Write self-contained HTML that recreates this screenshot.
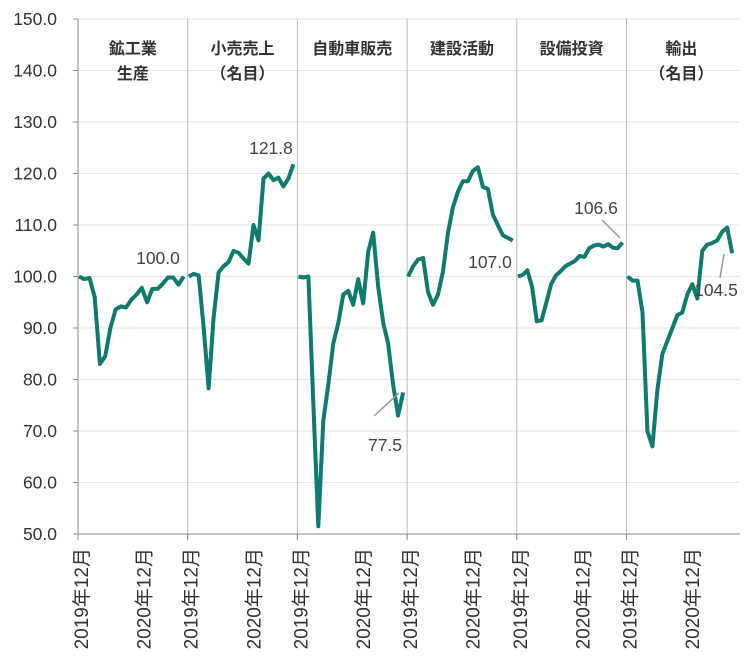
<!DOCTYPE html><html><head><meta charset="utf-8"><style>body{margin:0;background:#fff}svg text{font-family:"Liberation Sans","Noto Sans CJK JP",sans-serif}</style></head><body>
<svg id="s" width="748" height="667" xmlns="http://www.w3.org/2000/svg"></svg>
<script>
const s=document.getElementById('s');let h='';
const X0=78,PW=109.7,DX=5.22,Y=v=>534-(v-50)*5.15;
for(let v=50;v<=150;v+=10){const y=Y(v);if(v>50)h+=`<line x1="${X0}" x2="740" y1="${y}" y2="${y}" stroke="#e6e6e6"/>`;h+=`<line x1="73" x2="${X0}" y1="${y}" y2="${y}" stroke="#888"/><text x="57" y="${y+6}" text-anchor="end" font-size="17.5" fill="#333">${v.toFixed(1)}</text>`;}
for(let i=1;i<6;i++){const x=X0+PW*i;h+=`<line x1="${x}" x2="${x}" y1="19" y2="539" stroke="#bbb"/>`;}
h+=`<line x1="${X0}" x2="${X0}" y1="19" y2="539" stroke="#888"/><line x1="73" x2="740" y1="534" y2="534" stroke="#888"/>`;
const titles=[["鉱工業","生産"],["小売売上","（名目）"],["自動車販売"],["建設活動"],["設備投資"],["輸出","（名目）"]];
const data=[
[100,99.5,99.7,96,83,84.5,90,93.6,94.2,94,95.5,96.5,97.8,95,97.6,97.6,98.6,99.8,99.8,98.4,100],
[100,100.5,100.2,90,78.3,92,100.8,102,102.8,105,104.6,103.5,102.5,110,107,119,120,118.7,119.2,117.5,119,121.8],
[100,99.8,100,75,51.5,72,79,87,91,96.5,97.2,94.5,99.5,94.8,104.8,108.5,98,91,87,79,73,77.5],
[100,102,103.3,103.6,97,94.5,96.5,101,108.5,113.5,116.5,118.5,118.5,120.5,121.2,117.4,117,112,110,108,107.5,107],
[100,100.3,101.2,98,91.3,91.5,95,98.5,100.2,101,102,102.5,103,104,103.8,105.5,106,106.2,105.8,106.3,105.6,105.5,106.6],
[100,99.2,99.2,93,70,67,78,85,87.5,90,92.5,93,96.5,98.5,95.7,105,106.2,106.5,107,108.7,109.5,104.5]];
const labels=[["100.0",158,264],["121.8",271,154],["77.5",385,451],["107.0",490,268],["106.6",596,214],["104.5",716,296]];
for(let p=0;p<6;p++){const x0=X0+PW*p,cx=x0+PW/2;
titles[p].forEach((t,j)=>h+=`<text x="${cx}" y="${54+j*25}" text-anchor="middle" font-size="16" font-weight="600" fill="#333">${t}</text>`);
const d=data[p],dx=(PW-5)/ (d.length-1);
h+=`<polyline fill="none" stroke="#0f7a6e" stroke-width="4" stroke-linejoin="round" points="${d.map((v,i)=>(x0+1+i*dx).toFixed(1)+','+Y(v).toFixed(1)).join(' ')}"/>`;
h+=`<text x="${labels[p][1]}" y="${labels[p][2]}" text-anchor="middle" font-size="17.5" fill="#444">${labels[p][0]}</text>`;
[0,12].forEach(m=>{const tx=x0+m*DX+4;h+=`<text transform="translate(${tx+6},548) rotate(-90)" text-anchor="end" font-size="19" fill="#333">${m?2020:2019}年12月</text>`;});
h+=`<line x1="${x0}" x2="${x0}" y1="534" y2="540" stroke="#888"/>`;}
h+=`<line x1="374" y1="416" x2="399" y2="393" stroke="#999" stroke-width="1.5"/><line x1="602" y1="220" x2="620" y2="238" stroke="#999" stroke-width="1.5"/><line x1="720" y1="278" x2="724" y2="254" stroke="#999" stroke-width="1.5"/>`;
s.innerHTML=h;
</script></body></html>
